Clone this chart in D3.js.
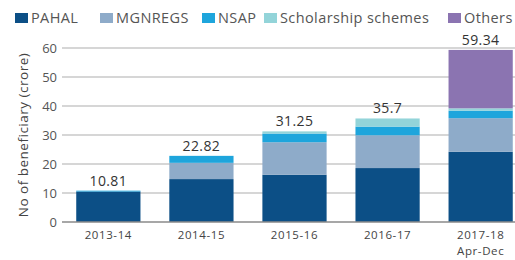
<!DOCTYPE html>
<html>
<head>
<meta charset="utf-8">
<script src="https://cdn.jsdelivr.net/npm/d3@7"></script>
<style>
  body { margin: 0; background: #fff; }
  svg { display: block; font-family: "Open Sans", Lato, sans-serif; }
</style>
</head>
<body>
<div id="chart"></div>
<script>
// data (crore beneficiaries)
const years = ["2013-14", "2014-15", "2015-16", "2016-17", "2017-18\nApr-Dec"];
const totals = ["10.81", "22.82", "31.25", "35.7", "59.34"];
const schemes = ["PAHAL", "MGNREGS", "NSAP", "Scholarship schemes", "Others"];
const pahal = [10.5, 14.8, 16.3, 18.6, 24.2];
const mgnregs = [0, 5.6, 11.2, 11.3, 11.6];
const nsap = [0.31, 2.4, 3.0, 3.0, 2.6];
const scholarship = [0, 0.02, 0.75, 2.8, 0.8];
const others = [0, 0, 0, 0, 20.14];
const yTicks = [0, 10, 20, 30, 40, 50, 60];

const colors = ["#0c4f86", "#8eabc9", "#1ea5dc", "#93d4d9", "#8b74b1"];

var cfg = {
  w: 515,
  h: 260,
  margin: {top: 48, right: -8, bottom: 38, left: 66}
};
const graphW = cfg.w - cfg.margin.left - cfg.margin.right;
const graphH = cfg.h - cfg.margin.top - cfg.margin.bottom;

// build rows for the stack
const rows = years.map((y, i) => ({
  year: y,
  "PAHAL": pahal[i],
  "MGNREGS": mgnregs[i],
  "NSAP": nsap[i],
  "Scholarship schemes": scholarship[i],
  "Others": others[i]
}));
const stacked = d3.stack().keys(schemes)(rows);

var svg = d3.select("#chart").append("svg")
  .attr("width", cfg.w)
  .attr("height", cfg.h);

var g = svg.append("g")
  .attr("transform", "translate(" + cfg.margin.left + "," + cfg.margin.top + ")");

var x = d3.scaleBand()
  .domain(years)
  .range([0, graphW])
  .paddingInner(0.31)
  .paddingOuter(0.11);

var y = d3.scaleLinear()
  .domain([0, 60])
  .range([graphH, 0]);

// gridlines
g.append("g")
  .selectAll("line")
  .data(yTicks.filter(d => d > 0))
  .enter().append("line")
  .attr("x1", -4).attr("x2", graphW)
  .attr("y1", d => y(d)).attr("y2", d => y(d))
  .attr("stroke", "#c9c9c9")
  .attr("stroke-width", 1.5);

// y axis labels
var yAxis = g.append("g")
  .call(d3.axisLeft(y).tickValues(yTicks).tickSize(0).tickPadding(9));
yAxis.select(".domain").remove();
yAxis.selectAll("text")
  .attr("font-size", 13)
  .attr("fill", "#555")
  .attr("font-family", "'Open Sans', sans-serif");

// bars
g.append("g")
  .selectAll("g")
  .data(stacked)
  .enter().append("g")
  .attr("fill", (d, i) => colors[i])
  .selectAll("rect")
  .data(d => d)
  .enter().append("rect")
  .attr("x", d => x(d.data.year))
  .attr("y", d => y(d[1]))
  .attr("width", x.bandwidth())
  .attr("height", d => y(d[0]) - y(d[1]));

// baseline
g.append("line")
  .attr("x1", -4).attr("x2", graphW)
  .attr("y1", y(0)).attr("y2", y(0))
  .attr("stroke", "#8a8a8a")
  .attr("stroke-width", 1.5);

// totals above bars
const topOf = years.map((yr, i) => pahal[i] + mgnregs[i] + nsap[i] + scholarship[i] + others[i]);
g.append("g")
  .selectAll("text")
  .data(years)
  .enter().append("text")
  .attr("x", d => x(d) + x.bandwidth() / 2)
  .attr("y", (d, i) => y(topOf[i]) - 5)
  .attr("text-anchor", "middle")
  .attr("font-size", 14)
  .attr("letter-spacing", 0.4)
  .attr("fill", "#333")
  .text((d, i) => totals[i]);

// x labels, one text per line so the last label can wrap
const xLines = [];
years.forEach(yr => yr.split("\n").forEach((s, j) => xLines.push({year: yr, text: s, line: j})));
g.append("g")
  .selectAll("text")
  .data(xLines)
  .enter().append("text")
  .attr("x", d => x(d.year) + x.bandwidth() / 2)
  .attr("y", d => graphH + 17 + d.line * 15.5)
  .attr("text-anchor", "middle")
  .attr("font-size", 11.5)
  .attr("letter-spacing", 0.6)
  .attr("fill", "#444")
  .text(d => d.text);

// y title
svg.append("text")
  .attr("transform", "translate(28,135) rotate(-90)")
  .attr("text-anchor", "middle")
  .attr("font-size", 13.5)
  .attr("letter-spacing", 0.5)
  .attr("fill", "#444")
  .text("No of beneficiary (crore)");

// legend
const legendX = [15, 100, 202, 264, 448];
var lg = svg.append("g")
  .selectAll("g")
  .data(schemes)
  .enter().append("g")
  .attr("transform", (d, i) => "translate(" + legendX[i] + ",12)");
lg.append("rect")
  .attr("width", 13).attr("height", 10)
  .attr("y", 1)
  .attr("fill", (d, i) => colors[i]);
lg.append("text")
  .attr("x", 16)
  .attr("y", 10.5)
  .attr("font-size", 14.5)
  .attr("letter-spacing", 0.4)
  .attr("fill", "#555")
  .text(d => d);
</script>
</body>
</html>
